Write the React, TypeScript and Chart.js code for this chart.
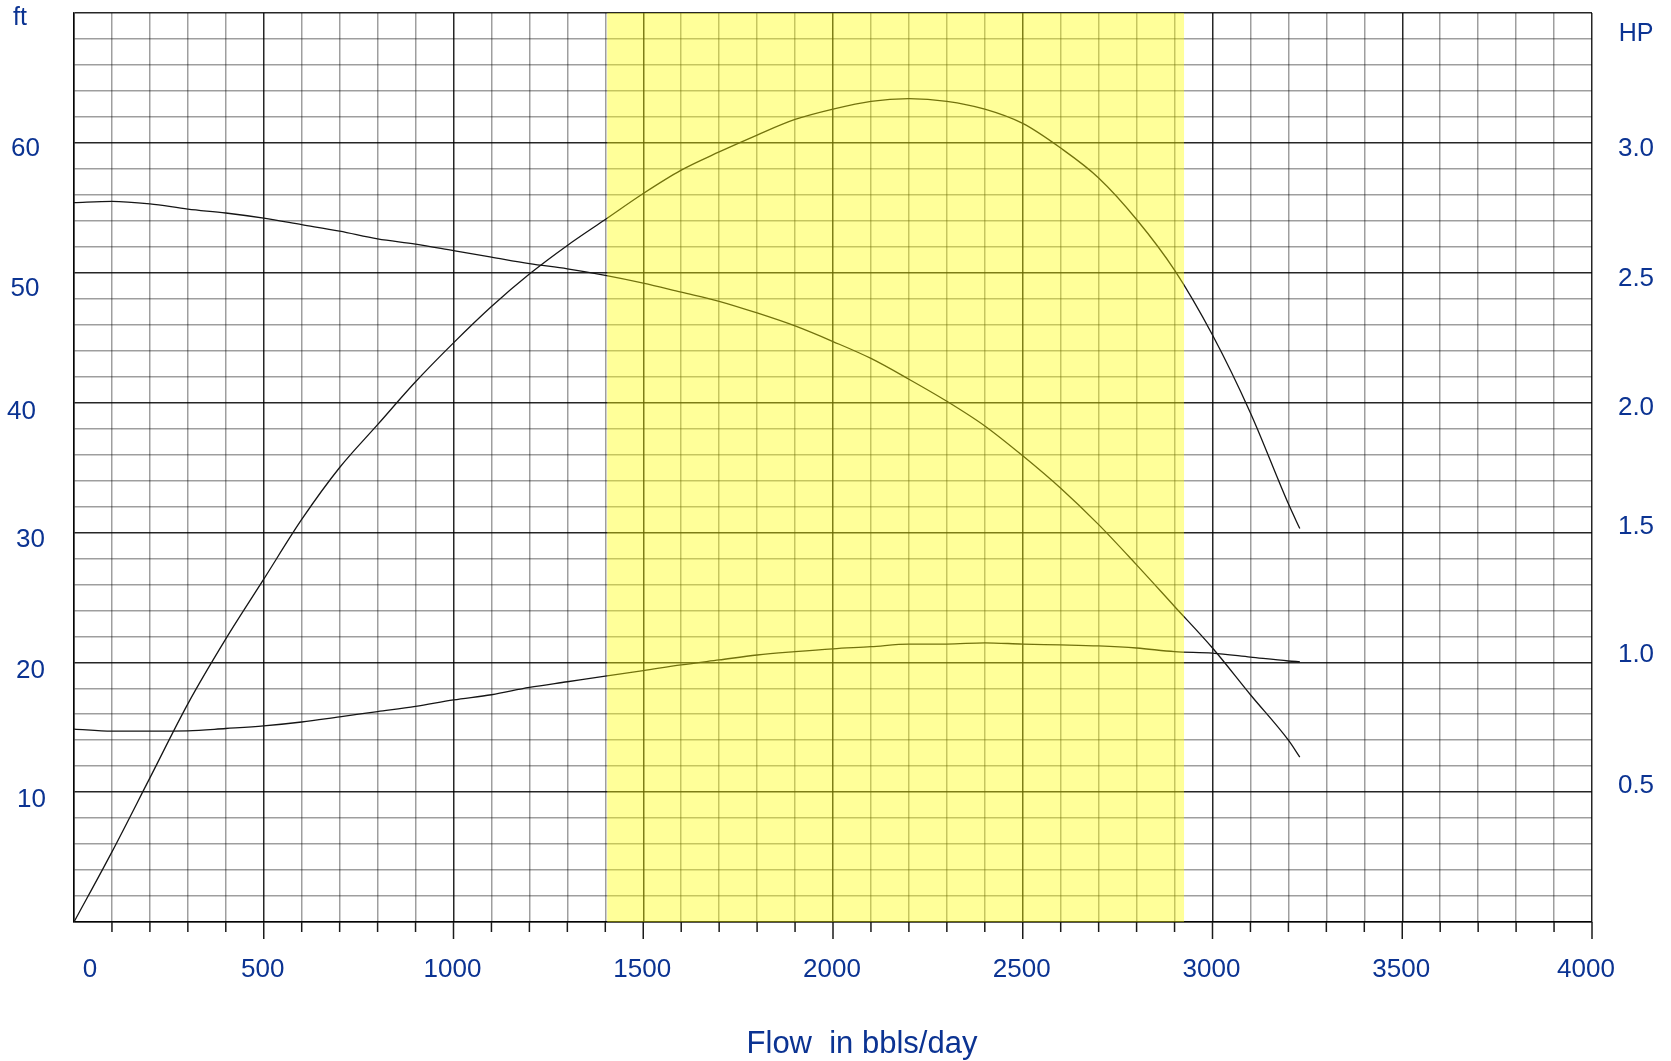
import { useEffect, useRef } from "react";
import { Chart, registerables } from "chart.js";

Chart.register(...registerables);

// Pump performance data, sampled every 100 bbl/day
const flowBpd = [
  0, 100, 200, 300, 400, 500, 600, 700, 800, 900, 1000, 1100, 1200, 1300, 1400,
  1500, 1600, 1700, 1800, 1900, 2000, 2100, 2200, 2300, 2400, 2500, 2600, 2700,
  2800, 2900, 3000, 3100, 3200, 3230,
];

// Total dynamic head (ft)
const headFt = [
  55.4, 55.5, 55.3, 54.9, 54.6, 54.2, 53.7, 53.2, 52.6, 52.2, 51.7, 51.2, 50.7,
  50.3, 49.8, 49.2, 48.5, 47.8, 46.9, 45.9, 44.7, 43.4, 41.8, 40.1, 38.2, 35.9,
  33.4, 30.6, 27.5, 24.3, 21.1, 17.5, 14.0, 12.7,
];

// Pump efficiency (%), read on the left scale
const efficiencyPct = [
  0, 5.4, 11.1, 16.8, 21.8, 26.4, 31.0, 35.0, 38.3, 41.6, 44.6, 47.4, 49.9, 52.1,
  54.1, 56.1, 57.9, 59.3, 60.6, 61.8, 62.6, 63.2, 63.4, 63.2, 62.6, 61.5, 59.6,
  57.3, 54.1, 50.2, 45.2, 39.2, 32.2, 30.3,
];

// Brake horsepower (HP), right scale
const powerHp = [
  0.743, 0.735, 0.735, 0.736, 0.745, 0.755, 0.77, 0.79, 0.81, 0.83, 0.855,
  0.875, 0.903, 0.925, 0.947, 0.968, 0.99, 1.009, 1.028, 1.041, 1.052, 1.06,
  1.07, 1.07, 1.075, 1.07, 1.067, 1.063, 1.055, 1.041, 1.035, 1.02, 1.005,
  1.002,
];

// Recommended operating range (bbl/day)
const operatingRange = [1405, 2925];

const flowTickLabels = [0, 500, 1000, 1500, 2000, 2500, 3000, 3500, 4000];
const headTickLabels = [60, 50, 40, 30, 20, 10];
const hpTickLabels = [3.0, 2.5, 2.0, 1.5, 1.0, 0.5];

const TEXT_BLUE = "#0b3392";
const FONT = '"Liberation Sans", Arial, Helvetica, sans-serif';

const toPoints = (ys: number[]) => flowBpd.map((x, i) => ({ x, y: ys[i] }));

// Label nudges so the numbers sit like the printed sheet
const leftLabelPos: Record<number, [number, number]> = {
  60: [25.5, 4],
  50: [25, 14],
  40: [21.5, 7.5],
  30: [30.5, 5.5],
  20: [30.5, 6.5],
  10: [31.5, 5.5],
};
const rightLabelDy: Record<string, number> = {
  "3.0": 4,
  "2.5": 4,
  "2.0": 3,
  "1.5": -7.5,
  "1.0": -9.5,
  "0.5": -8.5,
};

const curveSheetPlugin = {
  id: "curveSheet",
  afterDatasetsDraw(chart: any) {
    const { ctx, chartArea, scales } = chart;
    const x = scales.x;
    const left = x.getPixelForValue(operatingRange[0]);
    const right = x.getPixelForValue(operatingRange[1]);
    ctx.save();
    ctx.fillStyle = "rgba(255,255,0,0.4)";
    ctx.fillRect(left, chartArea.top, right - left, chartArea.bottom - chartArea.top);
    ctx.restore();
  },
  afterDraw(chart: any) {
    const { ctx, chartArea, scales } = chart;
    const x = scales.x;
    const y = scales.y;
    const y1 = scales.y1;
    ctx.save();

    // tick marks under the flow axis
    ctx.strokeStyle = "#1a1a1a";
    ctx.lineWidth = 1.5;
    for (let v = 100; v <= 4000; v += 100) {
      const px = x.getPixelForValue(v);
      const len = v % 500 === 0 ? 17 : 10;
      ctx.beginPath();
      ctx.moveTo(px, chartArea.bottom);
      ctx.lineTo(px, chartArea.bottom + len);
      ctx.stroke();
    }

    ctx.fillStyle = TEXT_BLUE;
    ctx.textBaseline = "alphabetic";

    // flow labels
    const tickSize = 26;
    ctx.font = `${tickSize}px ${FONT}`;
    ctx.textAlign = "center";
    const capHalf = tickSize * 0.358;
    flowTickLabels.forEach((v) => {
      let px = x.getPixelForValue(v);
      if (v === 0) px += 16;
      else if (v === 4000) px -= 6;
      else px -= 1;
      ctx.fillText(String(v), px, 968 + capHalf);
    });

    // head labels (left)
    headTickLabels.forEach((v) => {
      const [cx, dy] = leftLabelPos[v] || [27, 6];
      const py = y.getPixelForValue(v) + dy;
      ctx.fillText(String(v), cx, py + capHalf);
    });

    // horsepower labels (right)
    hpTickLabels.forEach((v) => {
      const label = v.toFixed(1);
      const py = y1.getPixelForValue(v) + (rightLabelDy[label] ?? 0);
      ctx.fillText(label, 1636, py + capHalf);
    });

    // unit captions
    ctx.font = `25px ${FONT}`;
    ctx.fillText("ft", 20, 16 + 25 * 0.36);
    ctx.fillText("HP", 1636, 32 + 25 * 0.358);

    // axis title
    ctx.font = `31px ${FONT}`;
    ctx.fillText("Flow  in bbls/day", 862, 1053);

    ctx.restore();
  },
};

export default function App() {
  const canvasRef = useRef<HTMLCanvasElement | null>(null);

  useEffect(() => {
    if (!canvasRef.current) return;
    const lineStyle = {
      borderColor: "#151515",
      borderWidth: 1.3,
      pointRadius: 0,
      pointHoverRadius: 0,
      fill: false,
      tension: 0.4,
      cubicInterpolationMode: "monotone" as const,
    };
    const chart = new Chart(canvasRef.current, {
      type: "line",
      data: {
        datasets: [
          { label: "Head (ft)", data: toPoints(headFt), yAxisID: "y", ...lineStyle },
          { label: "Efficiency (%)", data: toPoints(efficiencyPct), yAxisID: "y", ...lineStyle },
          { label: "Power (HP)", data: toPoints(powerHp), yAxisID: "y1", ...lineStyle },
        ],
      },
      options: {
        responsive: false,
        animation: false,
        events: [],
        layout: { padding: { left: 74, right: 79, top: 13, bottom: 139 } },
        plugins: {
          legend: { display: false },
          tooltip: { enabled: false },
          title: { display: false },
        },
        scales: {
          x: {
            type: "linear",
            min: 0,
            max: 4000,
            ticks: { display: false, stepSize: 100 },
            grid: {
              drawTicks: false,
              lineWidth: 1.5,
              color: (c: any) =>
                c.tick && c.tick.value % 500 === 0 ? "rgba(0,0,0,0.85)" : "rgba(0,0,0,0.38)",
            },
            border: { display: true, color: "rgba(0,0,0,0.85)", width: 1.5 },
          },
          y: {
            type: "linear",
            position: "left",
            min: 0,
            max: 70,
            ticks: { display: false, stepSize: 2 },
            grid: {
              drawTicks: false,
              lineWidth: 1.5,
              color: (c: any) =>
                c.tick && c.tick.value % 10 === 0 ? "rgba(0,0,0,0.85)" : "rgba(0,0,0,0.38)",
            },
            border: { display: true, color: "rgba(0,0,0,0.85)", width: 1.5 },
          },
          y1: {
            type: "linear",
            position: "right",
            display: false,
            min: 0,
            max: 3.5,
            grid: { drawOnChartArea: false },
          },
        },
      },
      plugins: [curveSheetPlugin],
    });
    return () => chart.destroy();
  }, []);

  return (
    <div
      style={{
        position: "fixed",
        left: 0,
        top: 0,
        width: 1671,
        height: 1061,
        background: "#ffffff",
      }}
    >
      <canvas ref={canvasRef} width={1671} height={1061} style={{ display: "block" }} />
    </div>
  );
}
